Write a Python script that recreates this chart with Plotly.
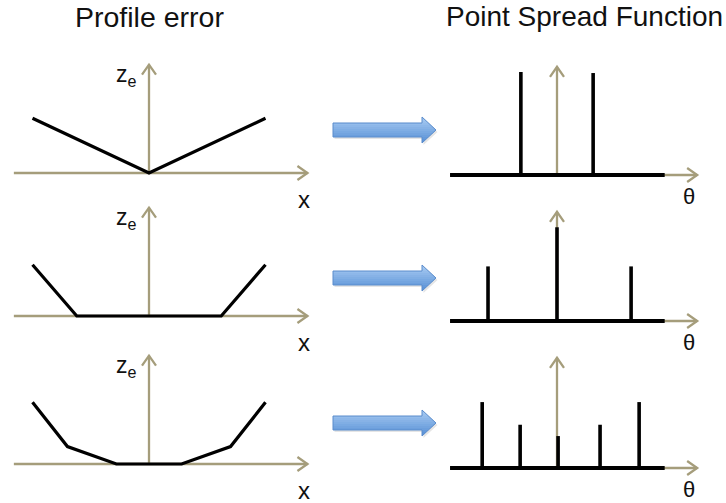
import plotly.graph_objects as go

W, H = 726, 503

# ---------------- data ----------------
titles = ["Profile error", "Point Spread Function"]

# surface profile error z_e(x) for the three cases
profile_x = [[-1.0, 0.0, 1.0],
             [-1.0, -0.62, 0.62, 1.0],
             [-1.0, -0.70, -0.28, 0.28, 0.70, 1.0]]
profile_z = [[0.47, 0.0, 0.47],
             [0.44, 0.0, 0.0, 0.44],
             [0.53, 0.15, 0.0, 0.0, 0.15, 0.53]]

# point spread function spikes (angle theta, intensity)
psf_theta = [[-0.99, 0.99],
             [-1.89, 0.0, 2.03],
             [-2.05, -1.01, 0.03, 1.18, 2.25]]
psf_height = [[1.0, 0.99],
              [0.53, 0.91, 0.53],
              [0.64, 0.42, 0.31, 0.42, 0.64]]

left_axis_x = [-1.16, 1.36]
left_axis_top = 0.93
right_axis_theta = [-2.93, 3.84]
right_base = [-2.93, 2.95]
right_axis_top = [1.05, 1.06, 1.07]

# ---------------- geometry / style ----------------
TAN = "#a59d7b"
BLACK = "#000000"
FONT = "Liberation Sans, Arial, sans-serif"

left_origin, left_sx, left_sy = 149, 116.5, 116.5
right_origin, right_sx, right_sy = 557, 36.5, 103
left_baselines = [173, 316, 464]
right_baselines = [175, 321, 468]
row_bands = [(30, 218), (188, 358), (335, 503)]
col_bands = [(0, 330), (430, 726)]
arrow_centers = [130, 278, 423]
HEAD_LEN, HEAD_HALF = 10, 7  # chevron size in pixels

fig = go.Figure()
layout = dict(width=W, height=H, margin=dict(l=0, r=0, t=0, b=0),
              paper_bgcolor="white", plot_bgcolor="rgba(0,0,0,0)",
              showlegend=False)
annotations = []
shapes = []


def axname(n, letter):
    return letter + ("" if n == 1 else str(n))


for r in range(3):
    for c in range(2):
        n = r * 2 + c + 1
        x0p, x1p = col_bands[c]
        top, bot = row_bands[r]
        if c == 0:
            org, sx, sy, base = left_origin, left_sx, left_sy, left_baselines[r]
        else:
            org, sx, sy, base = right_origin, right_sx, right_sy, right_baselines[r]
        layout[axname(n, "xaxis")] = dict(
            domain=[x0p / W, x1p / W],
            range=[(x0p - org) / sx, (x1p - org) / sx],
            visible=False, anchor=axname(n, "y"), fixedrange=True)
        layout[axname(n, "yaxis")] = dict(
            domain=[1 - bot / H, 1 - top / H],
            range=[(base - bot) / sy, (base - top) / sy],
            visible=False, anchor=axname(n, "x"), fixedrange=True)
        xr, yr = axname(n, "x"), axname(n, "y")

        if c == 0:
            hx, vtop = left_axis_x[1], left_axis_top
            axis_x = [left_axis_x[0], left_axis_x[1]]
        else:
            hx, vtop = right_axis_theta[1], right_axis_top[r]
            axis_x = [right_axis_theta[0], right_axis_theta[1]]
        # tan axes with open chevron heads (head size converted from pixels)
        dlx, dly = HEAD_LEN / sx, HEAD_HALF / sy
        dvx, dvy = HEAD_HALF / sx, HEAD_LEN / sy
        fig.add_trace(go.Scatter(
            x=[axis_x[0], hx, None, 0, 0, None,
               hx - dlx, hx, hx - dlx, None,
               -dvx, 0, dvx],
            y=[0, 0, None, 0, vtop, None,
               dly, 0, -dly, None,
               vtop - dvy, vtop, vtop - dvy],
            mode="lines", line=dict(color=TAN, width=2.3),
            xaxis=xr, yaxis=yr, hoverinfo="skip"))

        if c == 0:
            fig.add_trace(go.Scatter(x=profile_x[r], y=profile_z[r], mode="lines",
                                     line=dict(color=BLACK, width=3.2),
                                     xaxis=xr, yaxis=yr, hoverinfo="skip"))
            annotations.append(dict(x=-0.085, y=left_axis_top - 0.09, xref=xr, yref=yr,
                                    text="z<sub>e</sub>", showarrow=False,
                                    xanchor="right", yanchor="middle",
                                    font=dict(family=FONT, size=23, color="#111")))
            annotations.append(dict(x=1.33, y=-0.23, xref=xr, yref=yr, text="x",
                                    showarrow=False, xanchor="center", yanchor="middle",
                                    font=dict(family=FONT, size=24, color="#111")))
        else:
            sx_list, sy_list = [], []
            for t, h in zip(psf_theta[r], psf_height[r]):
                sx_list += [t, t, None]
                sy_list += [0, h, None]
            fig.add_trace(go.Scatter(x=sx_list, y=sy_list, mode="lines",
                                     line=dict(color=BLACK, width=3.6),
                                     xaxis=xr, yaxis=yr, hoverinfo="skip"))
            fig.add_trace(go.Scatter(x=right_base, y=[0, 0], mode="lines",
                                     line=dict(color=BLACK, width=4),
                                     xaxis=xr, yaxis=yr, hoverinfo="skip"))
            annotations.append(dict(x=3.62, y=-0.21, xref=xr, yref=yr, text="θ",
                                    showarrow=False, xanchor="center", yanchor="middle",
                                    font=dict(family=FONT, size=22, color="#111")))

# titles
annotations.append(dict(x=149 / W, y=1 - 17 / H, xref="paper", yref="paper",
                        text=titles[0], showarrow=False, xanchor="center", yanchor="middle",
                        font=dict(family=FONT, size=28.5, color="#111")))
annotations.append(dict(x=584 / W, y=1 - 17 / H, xref="paper", yref="paper",
                        text=titles[1], showarrow=False, xanchor="center", yanchor="middle",
                        font=dict(family=FONT, size=28, color="#111")))


# ---------------- blue block arrows (gradient by bands) ----------------
def clip(poly, y0, y1):
    def clip_half(pts, keep, cross):
        out = []
        for i in range(len(pts)):
            a, b = pts[i - 1], pts[i]
            ka, kb = keep(a), keep(b)
            if kb:
                if not ka:
                    out.append(cross(a, b))
                out.append(b)
            elif ka:
                out.append(cross(a, b))
        return out

    def cross_at(yv):
        def f(a, b):
            t = (yv - a[1]) / (b[1] - a[1])
            return (a[0] + t * (b[0] - a[0]), yv)
        return f
    p = clip_half(poly, lambda q: q[1] >= y0, cross_at(y0))
    if not p:
        return p
    return clip_half(p, lambda q: q[1] <= y1, cross_at(y1))


def to_path(pts):
    return "M " + " L ".join(f"{x / W:.5f},{1 - y / H:.5f}" for x, y in pts) + " Z"


def lerp(c1, c2, t):
    return "#%02x%02x%02x" % tuple(int(round(a + (b - a) * t)) for a, b in zip(c1, c2))


top_col, bot_col = (168, 203, 242), (88, 144, 214)
for cy in arrow_centers:
    poly = [(333, cy - 7), (422, cy - 7), (422, cy - 13), (436, cy),
            (422, cy + 13), (422, cy + 7), (333, cy + 7)]
    shadow = [(x + 1.5, y + 2) for x, y in poly]
    shapes.append(dict(type="path", path=to_path(shadow), xref="paper", yref="paper",
                       fillcolor="rgba(0,0,0,0.10)", line=dict(width=0)))
    nb = 13
    for i in range(nb):
        y0 = cy - 13 + 26 * i / nb
        y1 = cy - 13 + 26 * (i + 1) / nb + 0.3
        band = clip(poly, y0, y1)
        if len(band) >= 3:
            shapes.append(dict(type="path", path=to_path(band), xref="paper", yref="paper",
                               fillcolor=lerp(top_col, bot_col, i / (nb - 1)),
                               line=dict(width=0)))
    shapes.append(dict(type="path", path=to_path(poly), xref="paper", yref="paper",
                       fillcolor="rgba(0,0,0,0)", line=dict(color="#5a8ccc", width=1)))

layout["annotations"] = annotations
layout["shapes"] = shapes
fig.update_layout(**layout)
fig.write_html("out.html", config={"displayModeBar": False},
               post_script="document.body.style.margin='0';document.body.style.padding='0';")
